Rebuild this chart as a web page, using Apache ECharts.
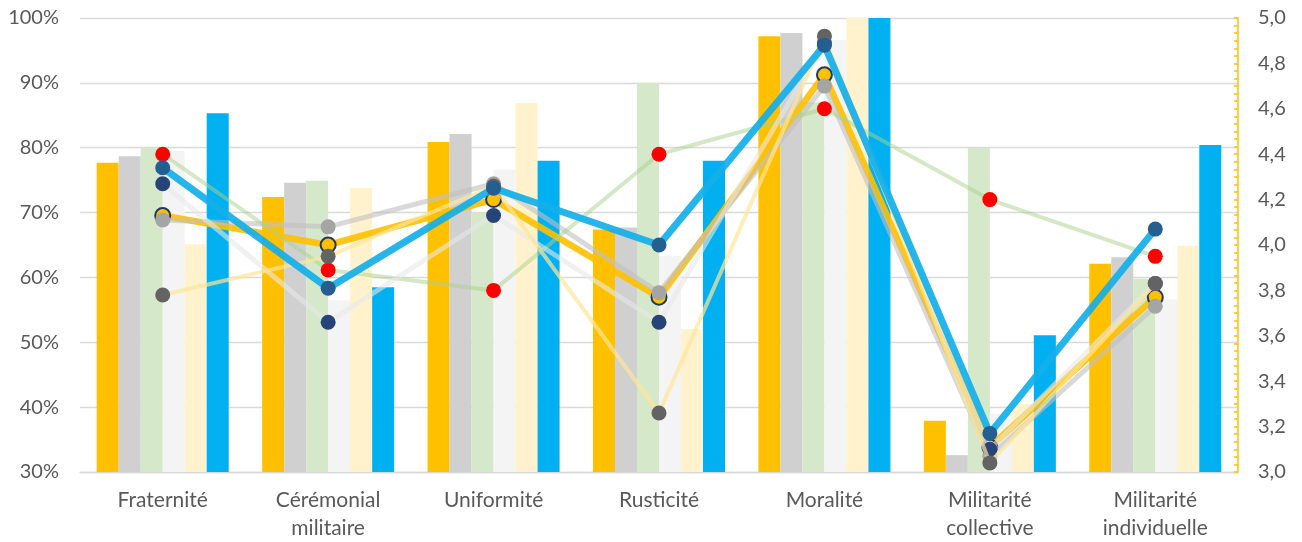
<!DOCTYPE html>
<html>
<head>
<meta charset="utf-8">
<script src="https://cdn.jsdelivr.net/npm/echarts@6/dist/echarts.min.js"></script>
<style>
html,body{margin:0;padding:0;background:#fff;}
#chart{width:1302px;height:542px;}
</style>
</head>
<body>
<div id="chart"></div>
<script>
const categories = ["Fraternité", "Cérémonial\nmilitaire", "Uniformité", "Rusticité", "Moralité", "Militarité\ncollective", "Militarité\nindividuelle"];

// Bars (left axis, %)
const barOrange = [77.7, 72.4, 80.9, 67.4, 97.2, 37.9, 62.1];
const barGray   = [78.7, 74.6, 82.1, 67.7, 97.7, 32.6, 63.1];
const barGreen  = [80.0, 74.9, 70.0, 90.0, 87.0, 80.0, 59.8];
const barWhite  = [79.5, 56.5, 76.6, 63.3, 96.6, 39.0, 56.6];
const barYellow = [65.1, 73.8, 86.9, 52.0, 100, 40.5, 64.9];
const barBlue   = [85.3, 58.5, 78.0, 78.0, 100, 51.1, 80.4];

// Lines (right axis, 3–5)
const lineOrange = [4.13, 4.00, 4.20, 3.77, 4.75, 3.11, 3.77];
const lineGray   = [4.11, 4.08, 4.27, 3.79, 4.70, 3.07, 3.73];
const lineGreen  = [4.40, 3.89, 3.80, 4.40, 4.60, 4.20, 3.95];
const lineWhite  = [4.27, 3.66, 4.13, 3.66, 4.89, 3.10, 3.83];
const lineYellow = [3.78, 3.95, 4.26, 3.26, 4.92, 3.04, 3.83];
const lineBlue   = [4.34, 3.81, 4.25, 4.00, 4.88, 3.17, 4.07];

const leftTicks = {min: 30, max: 100, interval: 10};
const rightTicks = {min: 3, max: 5, interval: 0.2};

const FONT = 'Lato';
const TXT = '#595959';

function bar(name, data, color) {
  return {name, type: 'bar', yAxisIndex: 0, data, barWidth: 22, barGap: '0%',
    itemStyle: {color}, z: 2, silent: true};
}
function line(name, data, color, width, opacity, mColor, mBorder, z) {
  return {name, type: 'line', yAxisIndex: 1, data, z,
    lineStyle: {color, width, opacity},
    symbol: 'circle', symbolSize: 15,
    itemStyle: {color: mColor, borderColor: mBorder || mColor, borderWidth: mBorder ? 2 : 0, opacity: 1},
    emphasis: {disabled: true}, silent: true, animation: false};
}

const chart = echarts.init(document.getElementById('chart'));
chart.setOption({
  animation: false,
  backgroundColor: '#ffffff',
  grid: {left: 80, right: 64, top: 18, bottom: 70},
  xAxis: {
    type: 'category', data: categories, boundaryGap: true,
    axisLine: {show: true, lineStyle: {color: '#D9D9D9', width: 1.3}},
    axisTick: {show: false},
    axisLabel: {color: TXT, fontFamily: FONT, fontSize: 21, lineHeight: 28, margin: 14, interval: 0}
  },
  yAxis: [
    {
      type: 'value', min: leftTicks.min, max: leftTicks.max, interval: leftTicks.interval,
      axisLine: {show: false}, axisTick: {show: false},
      splitLine: {show: true, lineStyle: {color: '#D9D9D9', width: 1.3}},
      axisLabel: {color: TXT, fontFamily: FONT, fontSize: 20, margin: 21, formatter: '{value}%'}
    },
    {
      type: 'value', position: 'right', min: rightTicks.min, max: rightTicks.max, interval: rightTicks.interval,
      axisLine: {show: true, lineStyle: {color: '#FFC000', width: 1.5}},
      axisTick: {show: true, inside: true, length: 4, lineStyle: {color: '#FFC000', width: 1.5}},
      minorTick: {show: true, splitNumber: 6, length: 4, lineStyle: {color: '#FFC000', width: 1.5}},
      splitLine: {show: false},
      axisLabel: {color: TXT, fontFamily: FONT, fontSize: 20, margin: 20,
        formatter: v => v.toFixed(1).replace('.', ',')}
    }
  ],
  series: [
    bar('b1', barOrange, '#FFC000'),
    bar('b2', barGray, '#D0D0D0'),
    bar('b3', barGreen, '#D5E8CA'),
    bar('b4', barWhite, '#F4F4F4'),
    bar('b5', barYellow, '#FFF2CC'),
    bar('b6', barBlue, '#00B0F0'),
    line('l1', lineOrange, '#FFC000', 6.5, 0.9, '#FFC000', '#1F3864', 10),
    line('l2', lineGray, '#BFBFBF', 5, 0.6, '#A5A5A5', null, 11),
    line('l3', lineGreen, '#A9D18E', 4, 0.5, '#FF0000', null, 12),
    line('l4', lineWhite, '#E8E8E8', 5, 0.6, '#264478', null, 13),
    line('l5', lineYellow, '#FFE699', 4, 0.7, '#636363', null, 14),
    line('l6', lineBlue, '#14AFE9', 7, 0.92, '#255E91', null, 15)
  ]
});
</script>
</body>
</html>
